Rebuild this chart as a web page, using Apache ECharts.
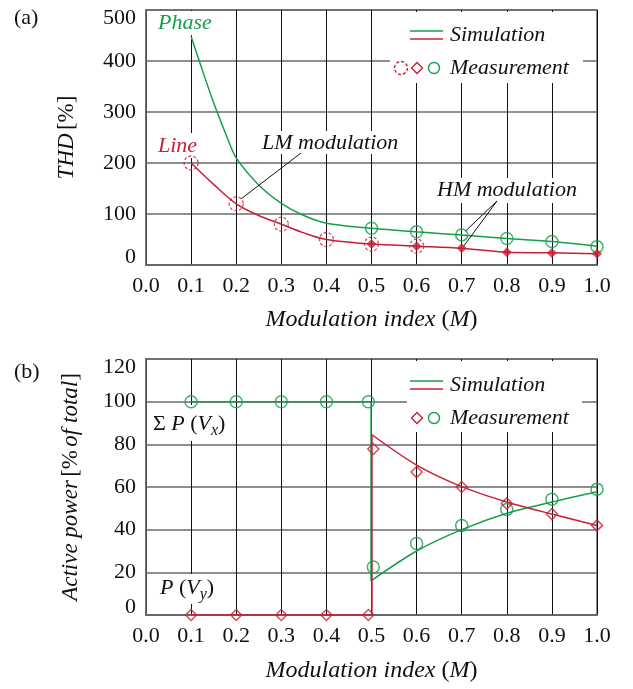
<!DOCTYPE html>
<html>
<head>
<meta charset="utf-8">
<script src="https://cdn.jsdelivr.net/npm/echarts@6/dist/echarts.min.js"></script>
<style>
html, body { margin: 0; padding: 0; background: #fff; }
#chart { width: 633px; height: 689px; }
</style>
</head>
<body>
<div id="chart"></div>
<script>
// ---- (a) THD versus modulation index ----
const thdPhaseSimM = [0.1, 0.12, 0.15, 0.18, 0.2, 0.25, 0.3, 0.35, 0.4, 0.5, 0.6, 0.7, 0.8, 0.9, 1.0];
const thdPhaseSim  = [448, 395, 318, 250, 210, 157, 121, 97, 82, 72, 65, 59, 52, 46, 37];
const thdLineSimM  = [0.1, 0.15, 0.2, 0.25, 0.3, 0.35, 0.4, 0.5, 0.6, 0.7, 0.8, 0.9, 1.0];
const thdLineSim   = [200, 158, 120, 97, 80, 63, 50, 41, 37, 33, 25, 24, 22];
const thdPhaseMeasM = [0.5, 0.6, 0.7, 0.8, 0.9, 1.0];
const thdPhaseMeas  = [72, 65, 59, 52, 46, 36];
const thdLineLmM    = [0.1, 0.2, 0.3, 0.4, 0.5, 0.6];
const thdLineLm     = [200, 120, 80, 50, 41, 37];
const thdLineHmM    = [0.5, 0.6, 0.7, 0.8, 0.9, 1.0];
const thdLineHm     = [41, 37, 33, 25, 23.5, 22];

// ---- (b) active power split between Vx and Vy ----
const pvxStepM  = [0.1, 0.499, 0.499];
const pvxStep   = [100, 100, 16];
const pvxCurveM = [0.499, 0.6, 0.7, 0.8, 0.9, 1.0];
const pvxCurve  = [16, 30, 40, 47.7, 53, 57.8];
const pvyStepM  = [0.1, 0.501, 0.501];
const pvyStep   = [0, 0, 84.5];
const pvyCurveM = [0.501, 0.6, 0.7, 0.8, 0.9, 1.0];
const pvyCurve  = [84.5, 70.3, 60.2, 53, 47.3, 42];
const powerMeasM = [0.1, 0.2, 0.3, 0.4, 0.493, 0.504, 0.6, 0.7, 0.8, 0.9, 1.0];
const pvxMeas    = [100, 100, 100, 100, 100, 22.5, 33.5, 42, 49.5, 54.3, 59];
const pvyMeas    = [0, 0, 0, 0, 0, 77.8, 67, 60, 52.3, 47.3, 42];

// axis ranges and tick steps
const xRange = [0, 1.0], xStep = 0.1;
const thdRange = [0, 500], thdStep = 100;
const powRange = [0, 120], powStep = 20;

const GREEN = '#14a04b';
const RED = '#c81f35';
const FONT = '"Liberation Serif", "Times New Roman", serif';
const TXT = '#111';

const zip = (xs, ys) => xs.map((x, i) => [x, ys[i]]);

const gridA = { left: 146, top: 10, width: 451, height: 255 };
const gridB = { left: 146, top: 359, width: 451, height: 256 };

function xAxisFor(gi, gap) {
  return {
    type: 'value', gridIndex: gi, min: xRange[0], max: xRange[1], interval: xStep,
    axisLine: { show: true, lineStyle: { color: '#666', width: 1.5 } },
    axisTick: { show: false },
    axisLabel: { fontFamily: FONT, fontSize: 22, color: TXT, margin: 10,
      formatter: v => v.toFixed(1) },
    splitLine: { show: true, lineStyle: { color: '#111', width: 1 } },
    name: '{i|Modulation index }{n|(}{i|M}{n|)}',
    nameLocation: 'middle', nameGap: gap,
    nameTextStyle: { rich: {
      i: { fontFamily: FONT, fontSize: 24, fontStyle: 'italic', color: TXT },
      n: { fontFamily: FONT, fontSize: 24, color: TXT }
    } }
  };
}

function yAxisFor(gi, range, step, name, gap) {
  const lo = range[0], hi = range[1];
  return {
    type: 'value', gridIndex: gi, min: lo, max: hi, interval: step,
    axisLine: { show: true, lineStyle: { color: '#666', width: 1.5 } },
    axisTick: { show: false },
    axisLabel: {
      fontFamily: FONT, fontSize: 22, color: TXT, margin: 10,
      formatter: v => v === lo ? '{lo|' + v + '}' : (v === hi ? '{hi|' + v + '}' : String(v)),
      rich: {
        lo: { fontFamily: FONT, fontSize: 22, color: TXT, padding: [0, 0, 16, 0] },
        hi: { fontFamily: FONT, fontSize: 22, color: TXT, padding: [17, 0, 0, 0] }
      }
    },
    splitLine: { show: true, lineStyle: { color: '#6a6a6a', width: 1.5 } },
    name: name, nameLocation: 'middle', nameGap: gap,
    nameTextStyle: { rich: {
      i: { fontFamily: FONT, fontSize: 23, fontStyle: 'italic', color: TXT },
      n: { fontFamily: FONT, fontSize: 23, color: TXT }
    } }
  };
}

const simLine = (name, color, xi, yi, data, smooth) => ({
  name, type: 'line', xAxisIndex: xi, yAxisIndex: yi, data,
  smooth: smooth, showSymbol: false, silent: true, z: 3,
  lineStyle: { color, width: 1.5 }
});

const chart = echarts.init(document.getElementById('chart'), null, { renderer: 'canvas' });

chart.setOption({
  backgroundColor: '#fff',
  animation: false,
  grid: [
    Object.assign({ show: true, borderColor: '#666', borderWidth: 1.5, outerBoundsMode: 'none' }, gridA),
    Object.assign({ show: true, borderColor: '#666', borderWidth: 1.5, outerBoundsMode: 'none' }, gridB)
  ],
  xAxis: [xAxisFor(0, 43), xAxisFor(1, 44)],
  yAxis: [
    yAxisFor(0, thdRange, thdStep, '{i|THD} {n|[%]}', 68),
    yAxisFor(1, powRange, powStep, '{i|Active power} {n|[%} {i|of total}{n|]}', 64)
  ],
  series: [
    // (a)
    simLine('Phase simulation', GREEN, 0, 0, zip(thdPhaseSimM, thdPhaseSim), 0.3),
    simLine('Line simulation', RED, 0, 0, zip(thdLineSimM, thdLineSim), 0.3),
    { name: 'Phase measurement', type: 'scatter', xAxisIndex: 0, yAxisIndex: 0, z: 5,
      data: zip(thdPhaseMeasM, thdPhaseMeas), symbol: 'circle', symbolSize: 12,
      itemStyle: { color: 'transparent', borderColor: GREEN, borderWidth: 1.5 } },
    { name: 'Line measurement (LM)', type: 'scatter', xAxisIndex: 0, yAxisIndex: 0, z: 5,
      data: zip(thdLineLmM, thdLineLm), symbol: 'circle', symbolSize: 14,
      itemStyle: { color: 'transparent', borderColor: RED, borderWidth: 1.3,
        borderType: [3, 2] } },
    { name: 'Line measurement (HM)', type: 'scatter', xAxisIndex: 0, yAxisIndex: 0, z: 6,
      data: zip(thdLineHmM, thdLineHm), symbol: 'diamond', symbolSize: 10,
      itemStyle: { color: RED } },
    // (b)
    simLine('Vx step', GREEN, 1, 1, zip(pvxStepM, pvxStep), false),
    simLine('Vx simulation', GREEN, 1, 1, zip(pvxCurveM, pvxCurve), 0.3),
    simLine('Vy step', RED, 1, 1, zip(pvyStepM, pvyStep), false),
    simLine('Vy simulation', RED, 1, 1, zip(pvyCurveM, pvyCurve), 0.3),
    { name: 'Vx measurement', type: 'scatter', xAxisIndex: 1, yAxisIndex: 1, z: 5,
      data: zip(powerMeasM, pvxMeas), symbol: 'circle', symbolSize: 12,
      itemStyle: { color: 'transparent', borderColor: GREEN, borderWidth: 1.5 } },
    { name: 'Vy measurement', type: 'scatter', xAxisIndex: 1, yAxisIndex: 1, z: 5,
      data: zip(powerMeasM, pvyMeas), symbol: 'diamond', symbolSize: 11,
      itemStyle: { color: 'transparent', borderColor: RED, borderWidth: 1.5 } }
  ]
});

// ---- annotations, legends and panel tags ----
const box = (x, y, w, h) => ({ type: 'rect', z: 1, silent: true,
  shape: { x, y, width: w, height: h }, style: { fill: '#fff' } });
const label = (text, x, y, color, extra) => ({ type: 'text', z: 10, silent: true,
  style: Object.assign({ text, x, y, fill: color, fontFamily: FONT, fontSize: 22,
    fontStyle: 'italic', align: 'left', verticalAlign: 'middle' }, extra || {}) });
const seg = (x1, y1, x2, y2, color, w) => ({ type: 'line', z: 10, silent: true,
  shape: { x1, y1, x2, y2 }, style: { stroke: color, lineWidth: w || 1 } });
const ring = (cx, cy, r, color, dash) => ({ type: 'circle', z: 10, silent: true,
  shape: { cx, cy, r }, style: { fill: 'none', stroke: color, lineWidth: 1.4, lineDash: dash || null } });
const rhomb = (cx, cy, h, color) => ({ type: 'polygon', z: 10, silent: true,
  shape: { points: [[cx, cy - h], [cx + h, cy], [cx, cy + h], [cx - h, cy]] },
  style: { fill: 'none', stroke: color, lineWidth: 1.4 } });

function legendBlock(x0, y0, w, h, simY, measY, withDashed) {
  const items = [
    box(x0, y0, w, h),
    seg(410, simY - 4, 443, simY - 4, GREEN, 1.5),
    seg(410, simY + 4, 443, simY + 4, RED, 1.5),
    label('Simulation', 450, simY, TXT),
    rhomb(417, measY, 5.5, RED),
    ring(434, measY, 5.5, GREEN),
    label('Measurement', 450, measY, TXT)
  ];
  if (withDashed) items.push(ring(401, measY, 6.5, RED, [3, 2]));
  return items;
}

const pA = v => chart.convertToPixel({ gridIndex: 0 }, v);
const lmEnd = pA([0.2, 120]);
const hmEndG = pA([0.7, 59]);
const hmEndR = pA([0.7, 33]);

const subRich = {
  n: { fontFamily: FONT, fontSize: 22, fill: TXT },
  i: { fontFamily: FONT, fontSize: 22, fontStyle: 'italic', fill: TXT },
  s: { fontFamily: FONT, fontSize: 16, fontStyle: 'italic', fill: TXT, padding: [14, 0, 0, 0] }
};

chart.setOption({
  graphic: [
    // (a)
    ...legendBlock(390, 12, 193, 71, 35, 68, true),
    box(147, 11, 70, 24), label('Phase', 158, 23, GREEN),
    box(147, 133, 60, 25), label('Line', 158, 146, RED),
    box(258, 131, 148, 23), label('LM modulation', 262, 143, TXT),
    seg(301, 153, lmEnd[0] + 5, lmEnd[1] - 5, TXT, 1),
    box(433, 178, 151, 25), label('HM modulation', 437, 190, TXT),
    seg(497, 201, hmEndG[0] + 4, hmEndG[1] - 4, TXT, 1),
    seg(497, 201, hmEndR[0] + 2, hmEndR[1] - 2, TXT, 1),
    // (b)
    ...legendBlock(407, 361, 175, 71, 385, 418, false),
    box(147, 405, 86, 36),
    label('{n|Σ }{i|P}{n| (}{i|V}{s|x}{n|)}', 153, 424, TXT, { rich: subRich }),
    box(147, 574, 76, 30),
    label('{i|P}{n| (}{i|V}{s|y}{n|)}', 160, 588, TXT, { rich: subRich }),
    // panel tags
    label('(a)', 14, 18, TXT, { fontStyle: 'normal' }),
    label('(b)', 14, 372, TXT, { fontStyle: 'normal' })
  ]
});
</script>
</body>
</html>
